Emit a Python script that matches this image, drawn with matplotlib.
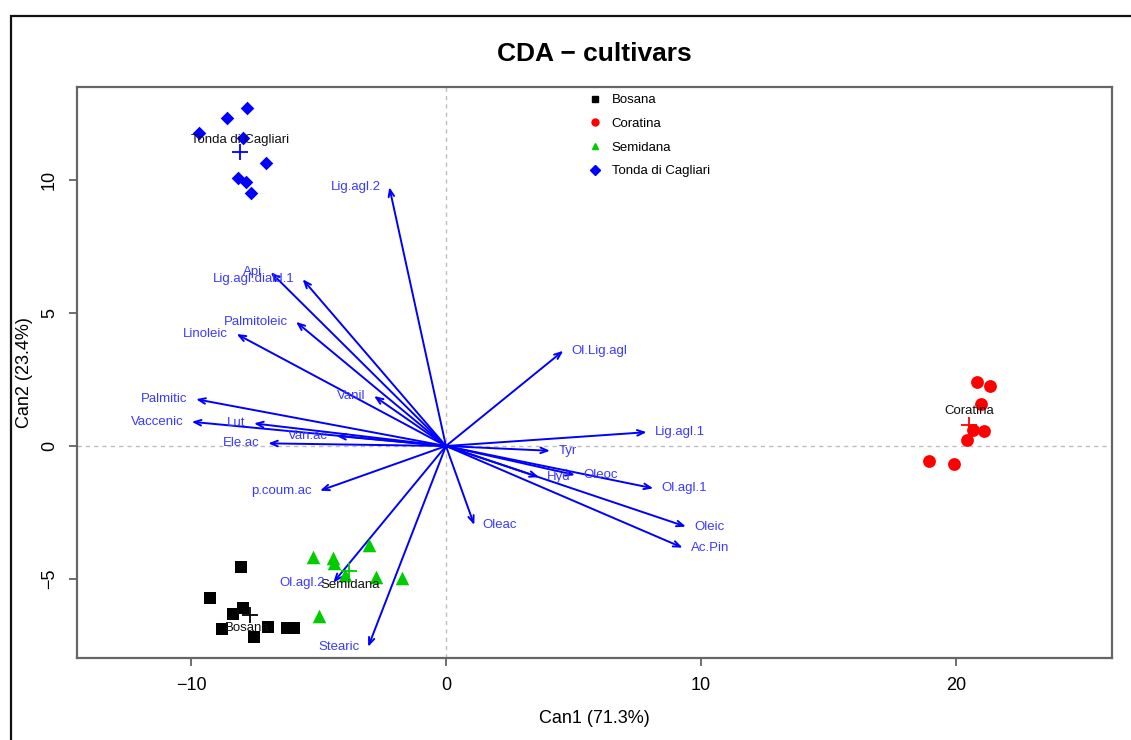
import numpy as np
import matplotlib
matplotlib.use("Agg")
import matplotlib.pyplot as plt
from matplotlib.lines import Line2D

plt.rcParams['font.family'] = ['Liberation Sans', 'DejaVu Sans']

# canonical scores per cultivar
bosana_x = [-8.04, -9.25, -7.96, -8.35, -8.78, -6.98, -7.53, -6.24, -5.96]
bosana_y = [-4.55, -5.71, -6.09, -6.32, -6.88, -6.80, -7.18, -6.84, -6.84]
coratina_x = [20.81, 21.33, 20.97, 20.65, 21.11, 20.44, 18.94, 19.93]
coratina_y = [2.39, 2.26, 1.57, 0.60, 0.56, 0.23, -0.55, -0.67]
semidana_x = [-5.22, -4.43, -4.39, -3.02, -3.96, -2.75, -1.73, -4.98]
semidana_y = [-4.17, -4.21, -4.40, -3.72, -4.85, -4.92, -4.96, -6.39]
tonda_x = [-7.79, -8.58, -9.69, -7.95, -7.05, -8.15, -7.84, -7.64]
tonda_y = [12.70, 12.32, 11.78, 11.57, 10.63, 10.06, 9.94, 9.52]

groups = ['Bosana', 'Coratina', 'Semidana', 'Tonda di Cagliari']
label_x = [-7.80, 20.51, -3.76, -8.08]
label_y = [-6.84, 1.32, -5.23, 11.50]

# structure coefficients (arrows)
var_names = ['Lig.agl.2', 'Api', 'Lig.agl.diald.1', 'Palmitoleic', 'Linoleic', 'Vanil',
             'Palmitic', 'Vaccenic', 'Lut', 'Van.ac', 'Ele.ac', 'p.coum.ac',
             'Ol.Lig.agl', 'Lig.agl.1', 'Tyr', 'Hyd', 'Oleoc', 'Ol.agl.1', 'Oleic',
             'Ac.Pin', 'Oleac', 'Ol.agl.2', 'Stearic']
var_x = [-2.22, -6.87, -5.62, -5.88, -8.21, -2.82, -9.80, -9.97, -7.53, -4.29, -6.97, -4.94,
         4.60, 7.87, 4.08, 3.65, 5.06, 8.13, 9.41, 9.28, 1.11, -4.42, -3.05]
var_y = [9.73, 6.53, 6.27, 4.67, 4.21, 1.88, 1.76, 0.91, 0.85, 0.38, 0.10, -1.68,
         3.58, 0.52, -0.18, -1.17, -1.09, -1.59, -3.03, -3.82, -2.97, -5.14, -7.55]

fig = plt.figure(figsize=(11.31, 7.40), dpi=100)
ax = fig.add_axes([0.0685, 0.1108, 0.9147, 0.7710])

# outer frame of the original device
fig.patches.append(plt.Rectangle((10.5 / 1131, -0.1), 1.2, 1.1 - 15.5 / 740,
                                 transform=fig.transFigure, fill=False,
                                 edgecolor='#111111', lw=1.6, zorder=0))

ax.axhline(0, color='#bdbdbd', lw=1, ls=(0, (3, 3)), zorder=1)
ax.axvline(0, color='#bdbdbd', lw=1, ls=(0, (3, 3)), zorder=1)

cols = ['black', 'red', '#00cc00', 'blue']
marks = ['s', 'o', '^', 'D']
sizes = [80, 85, 95, 48]
xs = [bosana_x, coratina_x, semidana_x, tonda_x]
ys = [bosana_y, coratina_y, semidana_y, tonda_y]
for i in range(4):
    ax.scatter(xs[i], ys[i], marker=marks[i], s=sizes[i], color=cols[i],
               linewidths=0, zorder=3)
    ax.scatter(np.mean(xs[i]), np.mean(ys[i]), marker='+', s=140, color=cols[i],
               linewidths=1.3, zorder=4)
    ax.text(label_x[i], label_y[i], groups[i], ha='center', va='center',
            fontsize=9.5, color='#111111', zorder=5)

for name, vx, vy in zip(var_names, var_x, var_y):
    ax.annotate('', xy=(vx, vy), xytext=(0, 0),
                arrowprops=dict(arrowstyle='->,head_length=0.5,head_width=0.2',
                                color='blue', lw=1.4, shrinkA=0, shrinkB=0),
                zorder=2)
    if vx < 0:
        ax.annotate(name, xy=(vx, vy), xytext=(-6, 0), textcoords='offset points',
                    ha='right', va='center', fontsize=9.5, color='#3a3aff', zorder=5)
    else:
        ax.annotate(name, xy=(vx, vy), xytext=(6, 0), textcoords='offset points',
                    ha='left', va='center', fontsize=9.5, color='#3a3aff', zorder=5)

handles = [Line2D([], [], marker=marks[i], color=cols[i], ls='none', markersize=5)
           for i in range(4)]
ax.legend(handles, groups, loc='upper left', bbox_to_anchor=(0.482, 1.009),
          frameon=False, fontsize=9.5, handlelength=1.0, handletextpad=0.8,
          labelspacing=0.86)

ax.set_xlim(-14.45, 26.12)
ax.set_ylim(-7.97, 13.48)
ax.set_xticks([-10, 0, 10, 20])
ax.set_yticks([-5, 0, 5, 10])
for lab in ax.get_yticklabels():
    lab.set_rotation(90)
    lab.set_va('center')
ax.tick_params(axis='both', labelsize=13, length=6, width=1.2, color='#555555', pad=8)
for s in ax.spines.values():
    s.set_color('#666666')
    s.set_linewidth(1.6)

ax.set_xlabel('Can1 (71.3%)', fontsize=13, labelpad=11)
ax.set_ylabel('Can2 (23.4%)', fontsize=13, labelpad=6)
ax.set_title('CDA \u2212 cultivars', fontsize=19, fontweight='bold', pad=19)

fig.savefig('out.png', dpi=100)
